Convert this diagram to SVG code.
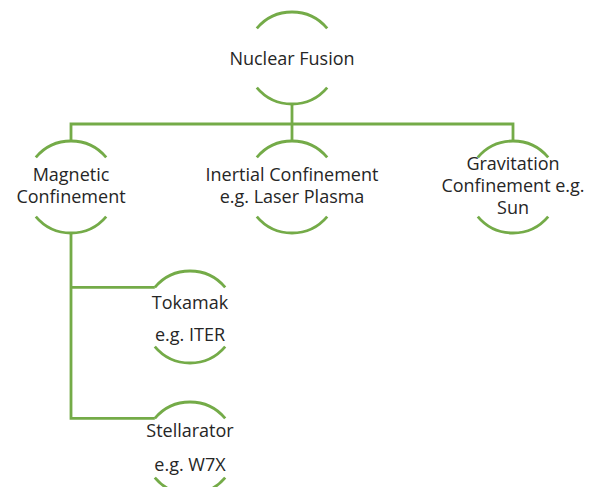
<svg xmlns="http://www.w3.org/2000/svg" width="593" height="487" viewBox="0 0 593 487">
  <style>
    .arc { fill: none; stroke: #74AB48; stroke-width: 2.8; }
    .link { fill: none; stroke: #74AB48; stroke-width: 2.8; stroke-linejoin: miter; }
    text { font-family: "Open Sans", "Liberation Sans", sans-serif; font-size: 18px; fill: #262626; text-anchor: middle; }
  </style>
  <rect width="593" height="487" fill="#ffffff"/>

  <!-- connectors -->
  <g id="connectors">
    <path class="link" d="M292 104 V141.5"/>
    <path class="link" d="M71 141.5 V124 H513 V141.5"/>
    <path class="link" d="M71 233 V418.4 H154.8"/>
    <path class="link" d="M71 287.4 H154.8"/>
  </g>

  <!-- nodes: each is a circle of r=46 shown as a top and bottom arc -->
  <g id="nuclear-fusion">
    <path class="arc" d="M256.8 28.4 A46 46 0 0 1 327.2 28.4"/>
    <path class="arc" d="M256.8 87.6 A46 46 0 0 0 327.2 87.6"/>
    <text x="292" y="65">Nuclear Fusion</text>
  </g>

  <g id="magnetic-confinement">
    <path class="arc" d="M35.8 157.4 A46 46 0 0 1 106.2 157.4"/>
    <path class="arc" d="M35.8 216.6 A46 46 0 0 0 106.2 216.6"/>
    <text x="71" y="181">Magnetic</text>
    <text x="71" y="203">Confinement</text>
  </g>

  <g id="inertial-confinement">
    <path class="arc" d="M256.8 157.4 A46 46 0 0 1 327.2 157.4"/>
    <path class="arc" d="M256.8 216.6 A46 46 0 0 0 327.2 216.6"/>
    <text x="292" y="181">Inertial Confinement</text>
    <text x="292" y="203">e.g. Laser Plasma</text>
  </g>

  <g id="gravitation-confinement">
    <path class="arc" d="M477.8 157.4 A46 46 0 0 1 548.2 157.4"/>
    <path class="arc" d="M477.8 216.6 A46 46 0 0 0 548.2 216.6"/>
    <text x="513" y="170">Gravitation</text>
    <text x="513" y="192">Confinement e.g.</text>
    <text x="513" y="214">Sun</text>
  </g>

  <g id="tokamak">
    <path class="arc" d="M154.8 287.4 A46 46 0 0 1 225.2 287.4"/>
    <path class="arc" d="M154.8 346.6 A46 46 0 0 0 225.2 346.6"/>
    <text x="190" y="309">Tokamak</text>
    <text x="190" y="341">e.g. ITER</text>
  </g>

  <g id="stellarator">
    <path class="arc" d="M154.8 418.4 A46 46 0 0 1 225.2 418.4"/>
    <path class="arc" d="M154.8 477.6 A46 46 0 0 0 225.2 477.6"/>
    <text x="190" y="437">Stellarator</text>
    <text x="190" y="471">e.g. W7X</text>
  </g>
</svg>
